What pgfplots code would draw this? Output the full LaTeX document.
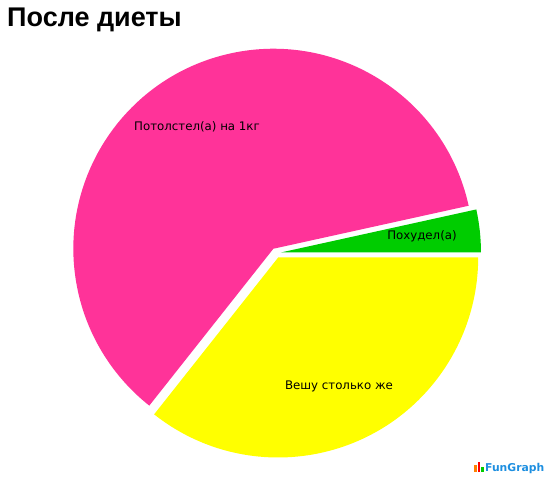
\documentclass[border=0pt]{standalone}
\usepackage{pgfplots}
\pgfplotsset{compat=1.18}
\usepackage{pgfplotstable}
\usetikzlibrary{calc}
\usepackage{fontspec}
\setmainfont{DejaVu Sans}
\newfontfamily\titlefont{Liberation Sans}
\definecolor{cpink}{HTML}{FF3399}
\definecolor{cgreen}{HTML}{00CC00}
\definecolor{cyellow}{HTML}{FFFF00}
\definecolor{logoblue}{HTML}{1E8FE0}
% slices, values in percent, clockwise from 0 deg
\pgfplotstableread{
value
3.45
35.65
60.90
}\piedata
\begin{document}
\begin{tikzpicture}
\begin{axis}[
  scale only axis, width=550pt, height=486pt,
  xmin=0, xmax=550, ymin=0, ymax=486,
  hide axis, clip=false]
\path (axis cs:0,0) rectangle (axis cs:550,486);
% center (276,253) px -> y = 486-253 = 233
\def\cx{276}\def\cy{233}\def\r{200}\def\ex{5}
\pgfplotstablegetelem{0}{value}\of\piedata \let\vA\pgfplotsretval
\pgfplotstablegetelem{1}{value}\of\piedata \let\vB\pgfplotsretval
\pgfplotstablegetelem{2}{value}\of\piedata \let\vC\pgfplotsretval
\pgfmathsetmacro{\aA}{3.6*\vA}
\pgfmathsetmacro{\aB}{-3.6*\vB}
\pgfmathsetmacro{\aC}{360+\aB}
% green: 0 .. aA
\pgfmathsetmacro{\mA}{\aA/2}
\fill[cgreen] ($(axis cs:\cx,\cy)+(\mA:\ex)$) -- ++(0:\r) arc[start angle=0,end angle=\aA,radius=\r] -- cycle;
% yellow: aB .. 0
\pgfmathsetmacro{\mB}{\aB/2}
\fill[cyellow] ($(axis cs:\cx,\cy)+(\mB:\ex)$) -- ++(\aB:\r) arc[start angle=\aB,end angle=0,radius=\r] -- cycle;
% pink: aA .. 360+aB
\pgfmathsetmacro{\mC}{(\aA+\aC)/2}
\fill[cpink] ($(axis cs:\cx,\cy)+(\mC:\ex)$) -- ++(\aA:\r) arc[start angle=\aA,end angle=\aC,radius=\r] -- cycle;
% labels
\node[font=\fontsize{11.8}{13}\selectfont, anchor=base] at (axis cs:197,355) {Потолстел(а) на 1кг};
\node[font=\fontsize{11.8}{13}\selectfont, anchor=base] at (axis cs:422,246) {Похудел(а)};
\node[font=\fontsize{11.8}{13}\selectfont, anchor=base] at (axis cs:339,96) {Вешу столько же};
% title
\node[font=\titlefont\bfseries\fontsize{27}{30}\selectfont, anchor=base west, inner sep=0] at (axis cs:7,459) {После диеты};
% logo
\fill[orange] (axis cs:474,14) rectangle (axis cs:476.5,21);
\fill[red] (axis cs:477.5,14) rectangle (axis cs:480,24);
\fill[cgreen] (axis cs:481,14) rectangle (axis cs:483.5,19);
\node[font=\fontsize{10.8}{12}\selectfont\bfseries, text=logoblue, anchor=base west, inner sep=0] at (axis cs:485,14) {FunGraph};
\end{axis}
\end{tikzpicture}
\end{document}
